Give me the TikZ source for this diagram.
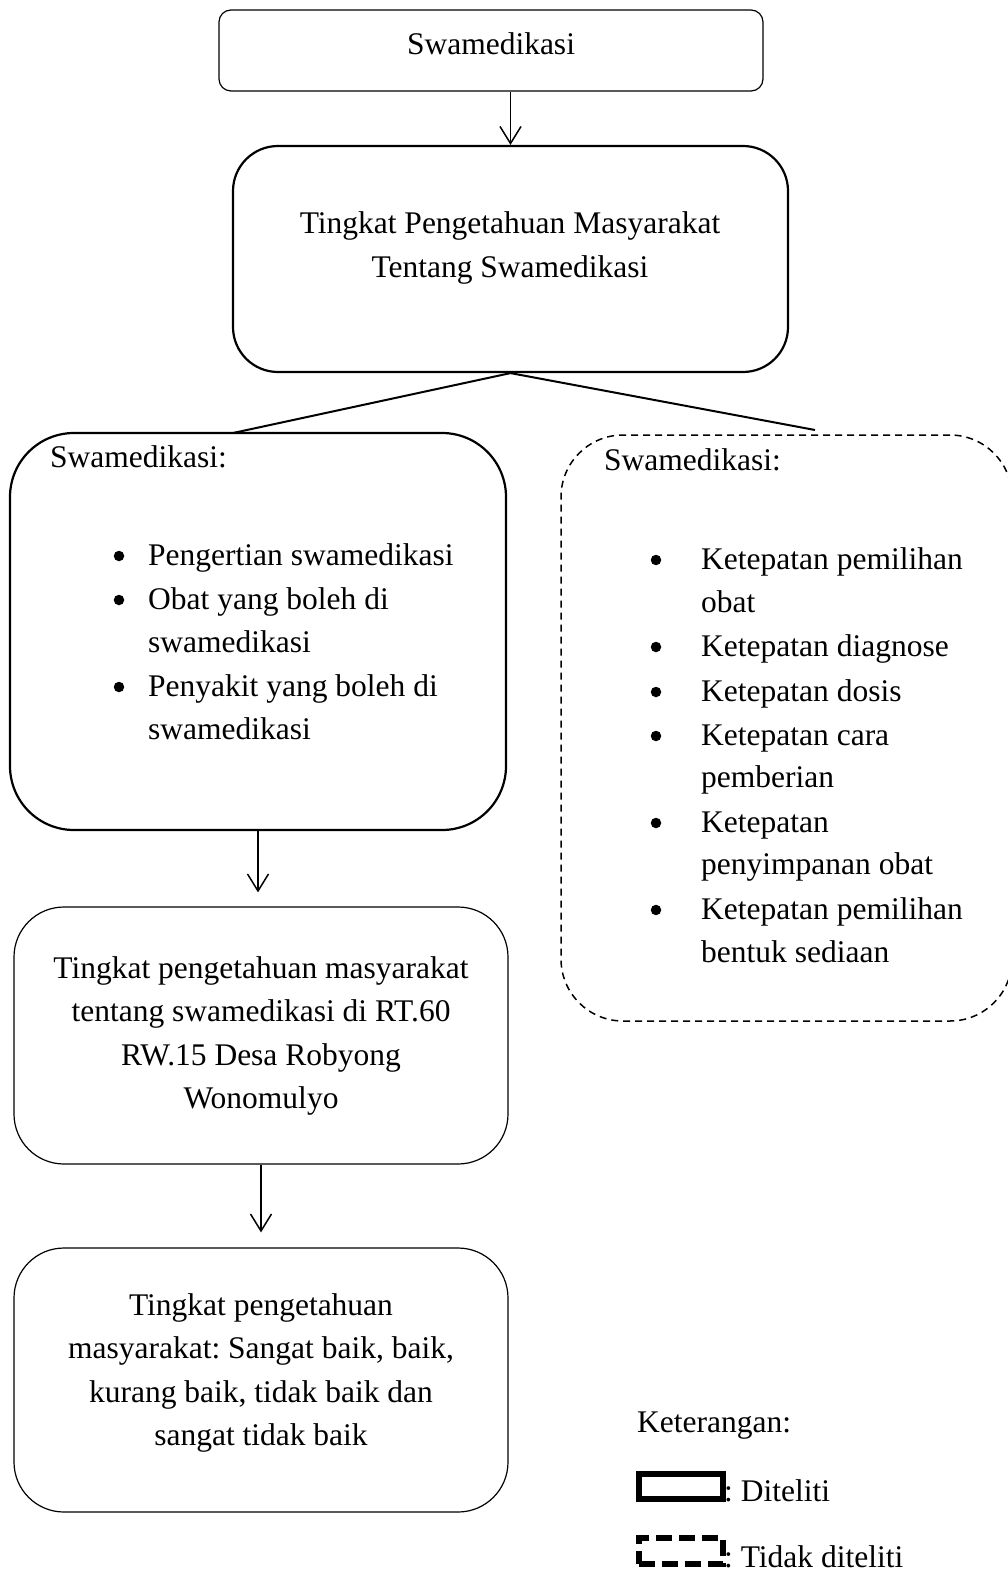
\documentclass[tikz,border=0pt]{standalone}
\usepackage{fontspec}
\setmainfont{Liberation Serif}
\usetikzlibrary{arrows.meta}
\frenchspacing
\begin{document}
\tikzset{
  txt/.style={font=\fontsize{31.5}{43.2}\selectfont, inner sep=0pt},
  ltxt/.style={txt, anchor=mid west},
  bul/.style={circle, fill, inner sep=0pt, minimum size=10.5pt},
  thinbox/.style={draw, line width=1.2pt, rounded corners=#1, inner sep=0pt},
  thickbox/.style={draw, line width=2.2pt, rounded corners=#1, inner sep=0pt},
  dashbox/.style={draw, line width=1.5pt, dash pattern=on 7pt off 5pt, rounded corners=#1, inner sep=0pt},
  arr/.style={line width=1.5pt, -{Straight Barb[length=17pt,width=21pt,line width=1.5pt]}},
  conn/.style={line width=2pt},
}
\begin{tikzpicture}[x=1pt,y=-1pt]
\useasboundingbox (0,0) rectangle (1008,1578);
\clip (0,0) rectangle (1008,1578);
% top
\node[thinbox=12pt, minimum width=544pt, minimum height=81pt] (top) at (491,50.5) {};
\node[txt] (ttop) at (491,44) {Swamedikasi};
% knowledge
\node[thickbox=45pt, minimum width=555pt, minimum height=226pt] (know) at (510.5,259) {};
\node[txt, align=center] (tknow) at (510,248) {Tingkat Pengetahuan Masyarakat\\Tentang Swamedikasi};
% left box
\node[thickbox=64pt, minimum width=496pt, minimum height=397pt] (lbox) at (258,631.5) {};
\node[ltxt] (l0) at (50,465) {Swamedikasi:};
\node[bul] (lb1) at (119,556) {};
\node[ltxt] (l1) at (148,563) {Pengertian swamedikasi};
\node[bul] (lb2) at (119,600) {};
\node[ltxt] (l2) at (148,607) {Obat yang boleh di};
\node[ltxt] (l2b) at (148,650) {swamedikasi};
\node[bul] (lb3) at (119,687) {};
\node[ltxt] (l3) at (148,694) {Penyakit yang boleh di};
\node[ltxt] (l3b) at (148,737) {swamedikasi};
% right box
\node[dashbox=62pt, minimum width=451pt, minimum height=586pt] (rbox) at (786.5,728) {};
\node[ltxt] (r0) at (604,468) {Swamedikasi:};
\node[bul] (rb1) at (656,560) {};
\node[ltxt] (r1) at (701,567) {Ketepatan pemilihan};
\node[ltxt] (r1b) at (701,610) {obat};
\node[bul] (rb2) at (656,647) {};
\node[ltxt] (r2) at (701,654) {Ketepatan diagnose};
\node[bul] (rb3) at (656,692) {};
\node[ltxt] (r3) at (701,699) {Ketepatan dosis};
\node[bul] (rb4) at (656,736) {};
\node[ltxt] (r4) at (701,743) {Ketepatan cara};
\node[ltxt] (r4b) at (701,785) {pemberian};
\node[bul] (rb5) at (656,823) {};
\node[ltxt] (r5) at (701,830) {Ketepatan};
\node[ltxt] (r5b) at (701,872) {penyimpanan obat};
\node[bul] (rb6) at (656,910) {};
\node[ltxt] (r6) at (701,917) {Ketepatan pemilihan};
\node[ltxt] (r6b) at (701,960) {bentuk sediaan};
% box 3
\node[thinbox=50pt, minimum width=494pt, minimum height=257pt] (b3) at (261,1035.5) {};
\node[txt, align=center] (tb3) at (261,1036) {Tingkat pengetahuan masyarakat\\tentang swamedikasi di RT.60\\RW.15 Desa Robyong\\Wonomulyo};
% box 4
\node[thinbox=50pt, minimum width=494pt, minimum height=264pt] (b4) at (261,1380) {};
\node[txt, align=center] (tb4) at (261,1373) {Tingkat pengetahuan\\masyarakat: Sangat baik, baik,\\kurang baik, tidak baik dan\\sangat tidak baik};
% connectors
\coordinate (lj) at (233,433);
\coordinate (rj) at (815,430);
\draw[arr] (know.north |- top.south) -- (know.north);
\draw[conn] (know.south) -- (lj);
\draw[conn] (know.south) -- (rj);
\draw[arr, shorten >=14pt] (lbox.south) -- (lbox.south |- b3.north);
\draw[arr, shorten >=15pt] (b3.south) -- (b4.north);
% legend
\node[ltxt] (ket) at (637,1430) {Keterangan:};
\node[draw, line width=6pt, inner sep=0pt, minimum width=84pt, minimum height=25pt] (lg1) at (680.5,1486) {};
\node[txt, anchor=base west] (lt1) at (724,1501) {: Diteliti};
\node[draw, line width=6pt, dash pattern=on 16pt off 7pt, inner sep=0pt, minimum width=84pt, minimum height=26pt] (lg2) at (680.5,1551) {};
\node[txt, anchor=base west] (lt2) at (724,1567) {: Tidak diteliti};
\end{tikzpicture}
\end{document}
